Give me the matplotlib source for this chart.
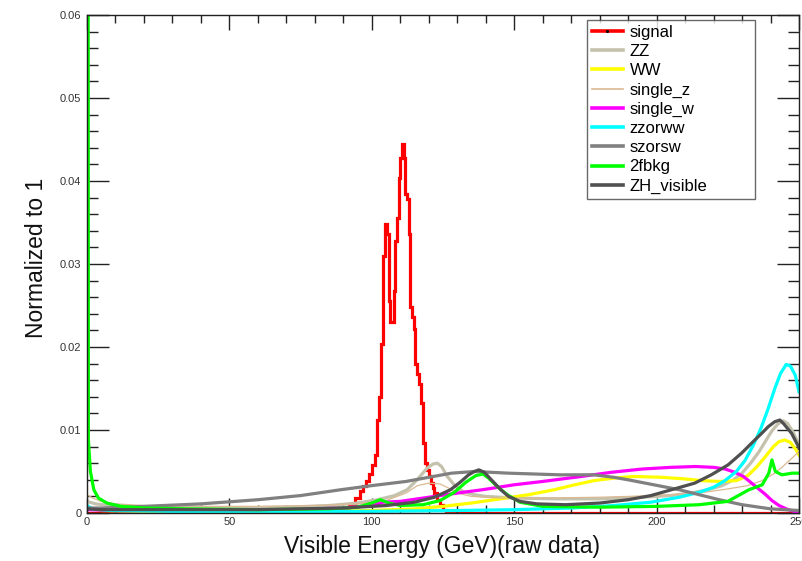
import matplotlib
matplotlib.use("Agg")
import matplotlib.pyplot as plt
from matplotlib.lines import Line2D
from matplotlib.ticker import MultipleLocator

plt.rcParams['font.family'] = ['Liberation Sans', 'DejaVu Sans']

# ---------------- data ----------------
series_names = ['signal', 'ZZ', 'WW', 'single_z', 'single_w', 'zzorww', 'szorsw', '2fbkg', 'ZH_visible']

x_ticks = [0, 50, 100, 150, 200, 250]
y_ticks = [0, 0.01, 0.02, 0.03, 0.04, 0.05, 0.06]
y_tick_labels = ['0', '0.01', '0.02', '0.03', '0.04', '0.05', '0.06']

# signal histogram (bin edges in GeV, bin contents)
sig_edges = [0, 90, 92, 94, 96, 97, 98, 99, 100, 101, 101.8, 102.6, 103.2, 103.8, 104.5, 105.2,
             105.9, 106.5, 107.7, 108.3, 108.8, 109.4, 110, 110.6, 111.2, 111.8, 112.3, 112.9,
             113.5, 114.1, 114.7, 115.3, 115.9, 116.5, 117.1, 118, 118.8, 119.5, 120.2, 120.8,
             121.4, 122, 123, 124, 125, 126, 250]
sig_values = [0, 0.0004, 0.0010, 0.0018, 0.0026, 0.0032, 0.0038, 0.0047, 0.0058, 0.0070,
              0.0112, 0.0140, 0.0204, 0.0310, 0.0348, 0.0336, 0.0256, 0.0230, 0.0268, 0.0328,
              0.0356, 0.0404, 0.0428, 0.0444, 0.0428, 0.0384, 0.0378, 0.0336, 0.0248, 0.0236,
              0.0222, 0.0180, 0.0168, 0.0156, 0.0132, 0.0084, 0.0060, 0.0052, 0.0044, 0.0036,
              0.0030, 0.0024, 0.0016, 0.0010, 0.0004, 0]

zz_e = [0, 3, 8, 15, 30, 50, 70, 85, 95, 102, 108, 112.4, 115.9, 119.4, 121.5, 123, 124.5, 126.5,
        129.4, 132, 136, 140, 150, 165, 180, 195, 205, 212, 218, 223, 227, 230, 233, 236, 238.5,
        240.5, 242.5, 244.5, 246, 248, 250]
zz_v = [0.0014, 0.0011, 0.0009, 0.0007, 0.0006, 0.0006, 0.0007, 0.0009, 0.0012, 0.0016,
        0.0021, 0.0028, 0.0040, 0.0054, 0.0059, 0.0060, 0.0056, 0.0044, 0.0032, 0.0026,
        0.0022, 0.0020, 0.0018, 0.0017, 0.0017, 0.0019, 0.0021, 0.0024, 0.0028, 0.0033,
        0.0040, 0.0048, 0.0060, 0.0074, 0.0088, 0.0099, 0.0107, 0.0111, 0.0108, 0.0097, 0.0082]

ww_e = [0, 5, 20, 50, 80, 100, 115, 125, 135, 145, 155, 164, 170, 178, 185, 192, 202, 210, 216,
        222, 228, 232, 235, 238, 241, 243, 245, 247, 249, 250]
ww_v = [0.0006, 0.0003, 0.0002, 0.0002, 0.0002, 0.0003, 0.0005, 0.0008, 0.0012, 0.0017,
        0.0022, 0.0028, 0.0033, 0.0039, 0.0042, 0.0044, 0.0043, 0.0041, 0.0039, 0.0038,
        0.0039, 0.0045, 0.0055, 0.0067, 0.0080, 0.0086, 0.0088, 0.0085, 0.0076, 0.0070]

sz_e = [0, 2, 5, 10, 20, 40, 60, 80, 95, 105, 112, 116, 120, 124, 127, 130, 135, 145, 160, 180,
        200, 215, 225, 232, 237, 241, 244, 247.5, 250]
sz_v = [0.0022, 0.0018, 0.0014, 0.0011, 0.0009, 0.0008, 0.0008, 0.0009, 0.0011, 0.0015,
        0.0024, 0.0033, 0.0036, 0.0035, 0.0030, 0.0024, 0.0020, 0.0018, 0.0018, 0.0019,
        0.0021, 0.0024, 0.0029, 0.0033, 0.0039, 0.0047, 0.0055, 0.0066, 0.0074]

sw_e = [0, 10, 40, 70, 90, 100, 104, 110, 120, 130, 138.8, 150, 160, 173.5, 184, 195, 205, 213.6,
        220, 224, 227.5, 230.5, 233, 235.5, 238, 240.5, 243, 245.5, 248, 250]
sw_v = [0.0004, 0.0003, 0.0003, 0.0004, 0.0006, 0.0009, 0.0013, 0.0014, 0.0019, 0.0024,
        0.0028, 0.0034, 0.0038, 0.0044, 0.0049, 0.0053, 0.0055, 0.0056, 0.0055, 0.0053,
        0.0049, 0.0044, 0.0037, 0.0030, 0.0023, 0.0015, 0.0009, 0.0005, 0.0002, 0.0001]

zw_e = [0, 2, 8, 30, 60, 100, 130, 150, 170, 185, 198, 208, 215, 220, 224, 228, 231, 234, 236.5,
        239, 241.5, 243.5, 245.5, 247, 248.7, 250]
zw_v = [0.0009, 0.0005, 0.0003, 0.0002, 0.0002, 0.0002, 0.0003, 0.0004, 0.0006, 0.0009,
        0.0013, 0.0019, 0.0025, 0.0031, 0.0039, 0.0050, 0.0063, 0.0082, 0.0101, 0.0124,
        0.0150, 0.0168, 0.0179, 0.0177, 0.0166, 0.0146]

so_e = [0, 5, 20, 40, 60, 75, 89, 100, 112, 120, 128, 136, 148, 166, 178, 185, 190, 196, 202,
        208, 215, 222, 230, 240, 250]
so_v = [0.0006, 0.0006, 0.0008, 0.0011, 0.0016, 0.0021, 0.0028, 0.0033, 0.0038, 0.0043,
        0.0048, 0.0050, 0.0048, 0.0046, 0.0046, 0.0043, 0.0040, 0.0036, 0.0032, 0.0028,
        0.0022, 0.0016, 0.0010, 0.0005, 0.0003]

fb_e = [0, 0.4, 0.5, 1.2, 2.4, 4, 7, 12, 20, 35, 60, 85, 95, 100, 103, 106, 110, 118, 124, 129,
        133, 136.5, 139, 141, 144, 147.6, 152, 160, 180, 200, 215, 225, 232.4, 237.1, 239.4,
        240.5, 241.7, 244, 247.6, 250]
fb_v = [0.075, 0.075, 0.0088, 0.0050, 0.0028, 0.0018, 0.0012, 0.0008, 0.0006, 0.0005,
        0.0004, 0.0005, 0.0007, 0.0012, 0.0016, 0.0012, 0.0009, 0.0010, 0.0015, 0.0025,
        0.0037, 0.0045, 0.0047, 0.0042, 0.0032, 0.0022, 0.0013, 0.0008, 0.0007, 0.0008,
        0.0010, 0.0014, 0.0028, 0.0034, 0.0048, 0.0064, 0.0050, 0.0046, 0.0048, 0.0048]

zh_e = [0, 5, 30, 60, 90, 105, 115, 122, 127.6, 131, 134, 136, 137.6, 139.5, 142, 145.3, 148, 152,
        158, 168, 180, 190, 198, 205.2, 213.4, 219.2, 225.1, 229.8, 234.5, 236.9, 239.2, 241.5,
        243.3, 244.5, 247.4, 249.8, 250]
zh_v = [0.0005, 0.0004, 0.0004, 0.0004, 0.0006, 0.0009, 0.0013, 0.0019, 0.0028, 0.0037,
        0.0046, 0.0050, 0.0052, 0.0049, 0.0040, 0.0028, 0.0020, 0.0014, 0.0011, 0.0010,
        0.0012, 0.0016, 0.0021, 0.0028, 0.0036, 0.0046, 0.0058, 0.0072, 0.0088, 0.0096,
        0.0104, 0.0110, 0.0112, 0.0108, 0.0096, 0.0080, 0.0078]

# ---------------- style ----------------
colors = {
    'signal': '#ff0000', 'ZZ': '#c4c2ac', 'WW': '#ffff00', 'single_z': '#dbb994',
    'single_w': '#ff00ff', 'zzorww': '#00ffff', 'szorsw': '#808080', '2fbkg': '#00ff00',
    'ZH_visible': '#505050',
}
widths = {n: 2.3 for n in series_names}
widths['single_z'] = 0.9

fig = plt.figure(figsize=(8.02, 5.61), dpi=100)
ax = fig.add_axes([87 / 802, 48 / 561, 712 / 802, 498 / 561])

ax.stairs(sig_values, sig_edges, color=colors['signal'], lw=widths['signal'], baseline=None)
curves = [('ZZ', zz_e, zz_v), ('WW', ww_e, ww_v), ('single_z', sz_e, sz_v),
          ('single_w', sw_e, sw_v), ('zzorww', zw_e, zw_v), ('szorsw', so_e, so_v),
          ('2fbkg', fb_e, fb_v), ('ZH_visible', zh_e, zh_v)]
handles = [Line2D([], [], color=colors['signal'], lw=2.6, marker='.', markersize=2.5,
                  markerfacecolor='k', markeredgecolor='k')]
for name, e, v in curves:
    ax.plot(e, v, color=colors[name], lw=widths[name], solid_joinstyle='round')
    handles.append(Line2D([], [], color=colors[name], lw=widths[name] + 0.3))

ax.set_xlim(0, 250)
ax.set_ylim(0, 0.06)
ax.set_xticks(x_ticks)
ax.set_yticks(y_ticks)
ax.set_yticklabels(y_tick_labels)
ax.xaxis.set_minor_locator(MultipleLocator(10))
ax.yaxis.set_minor_locator(MultipleLocator(0.002))
ax.tick_params(which='both', direction='in', top=True, right=True, labelsize=8,
               labelcolor='#333333', width=1.0, color='#222222')
ax.tick_params(axis='x', which='major', length=11, pad=3)
ax.tick_params(axis='x', which='minor', length=5.5)
ax.tick_params(axis='y', which='major', length=16, pad=4)
ax.tick_params(axis='y', which='minor', length=8)
for s in ax.spines.values():
    s.set_linewidth(1.0)
    s.set_color('#222222')

fig.text(442 / 802, 1 - 547 / 561, 'Visible Energy (GeV)(raw data)', ha='center', va='center',
         fontsize=16.5, color='#111111')
fig.text(37 / 802, 1 - 258 / 561, 'Normalized to 1', ha='center', va='center', rotation=90,
         fontsize=16.5, color='#111111')

leg = ax.legend(handles, series_names, loc='upper left',
                bbox_to_anchor=(587 / 802, 1 - 195 / 561, 168 / 802, 175 / 561),
                bbox_transform=fig.transFigure, mode='expand', fontsize=12,
                frameon=True, fancybox=False, shadow=False, borderaxespad=0,
                borderpad=0.3, handlelength=1.85, handletextpad=0.4, labelspacing=0.25,
                numpoints=1)
leg.get_frame().set_edgecolor('#444444')
leg.get_frame().set_linewidth(1.0)

fig.savefig('out.png', dpi=100)
